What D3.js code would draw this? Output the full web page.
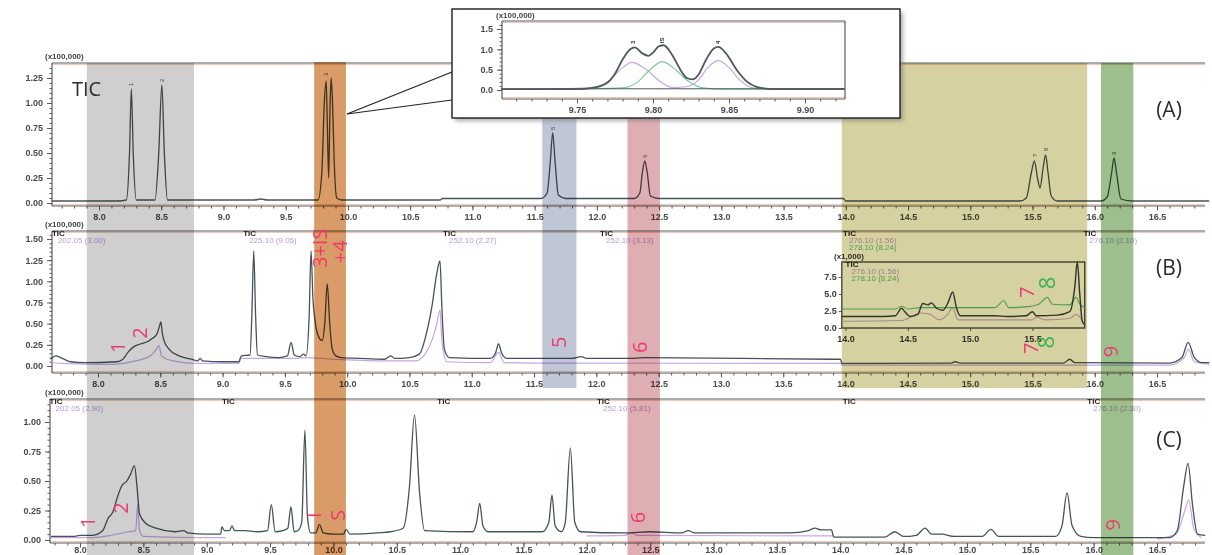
<!DOCTYPE html>
<html>
<head>
<meta charset="utf-8">
<script src="https://cdn.jsdelivr.net/npm/d3@7"></script>
<style>
body{margin:0;background:#fff;}
svg{display:block;filter:blur(0.3px);}
</style>
</head>
<body>
<script>
// retention time (min) vs intensity (x100,000)

// panel A : standard mix, TIC
var ticA = [[7.62,0.02],[8.15,0.02],[8.22,0.03],[8.245,0.5],[8.26,1.14],[8.275,0.5],[8.30,0.03],[8.45,0.03],[8.48,0.5],[8.505,1.18],[8.525,0.5],[8.55,0.03],
  [9.25,0.03],[9.30,0.04],[9.35,0.03],[9.76,0.03],[9.79,0.3],[9.81,1.0],[9.825,1.22],[9.835,0.75],[9.845,0.25],[9.855,0.9],[9.865,1.25],[9.875,1.05],[9.89,0.4],[9.91,0.05],[9.95,0.03],
  [10.74,0.03],[10.76,0.045],[11.55,0.045],[11.60,0.1],[11.625,0.4],[11.645,0.70],[11.665,0.4],[11.69,0.08],[11.75,0.045],
  [12.30,0.045],[12.345,0.1],[12.365,0.3],[12.385,0.42],[12.405,0.3],[12.43,0.07],[12.5,0.045],[13.98,0.045],[14.0,0.02],
  [15.40,0.02],[15.45,0.05],[15.49,0.3],[15.515,0.42],[15.54,0.25],[15.56,0.15],[15.585,0.35],[15.605,0.48],[15.625,0.3],[15.65,0.07],[15.7,0.02],
  [16.05,0.02],[16.10,0.06],[16.135,0.3],[16.155,0.45],[16.175,0.3],[16.21,0.04],[16.3,0.02],[16.92,0.02]];

// inset of A : 9.70 - 9.93 min
var insetTic = [[9.70,0.02],[9.75,0.02],[9.76,0.05],[9.77,0.18],[9.775,0.4],[9.78,0.75],[9.785,1.0],[9.788,1.05],[9.793,0.9],[9.797,0.84],[9.80,0.92],[9.804,1.08],[9.807,1.1],[9.812,0.9],[9.818,0.5],[9.822,0.3],[9.826,0.26],[9.83,0.38],[9.835,0.75],[9.84,1.02],[9.843,1.06],[9.848,0.9],[9.855,0.5],[9.862,0.2],[9.87,0.06],[9.88,0.02],[9.926,0.02]];
var insetLav = [[9.72,0.02],[9.76,0.06],[9.77,0.2],[9.78,0.55],[9.786,0.68],[9.795,0.52],[9.805,0.2],[9.813,0.06],[9.822,0.08],[9.83,0.25],[9.836,0.55],[9.843,0.72],[9.85,0.55],[9.857,0.25],[9.865,0.06],[9.875,0.02],[9.926,0.02]];
var insetGreen = [[9.734,0.02],[9.78,0.05],[9.79,0.2],[9.798,0.5],[9.806,0.7],[9.815,0.5],[9.822,0.25],[9.832,0.06],[9.845,0.02],[9.926,0.02]];

// panel B : sample, TIC and ion trace
var ticB = [[7.62,0.08],[7.66,0.12],[7.70,0.10],[7.78,0.05],[7.9,0.04],[8.15,0.05],[8.20,0.08],[8.24,0.16],[8.28,0.22],[8.34,0.26],[8.40,0.29],[8.44,0.33],[8.47,0.37],[8.49,0.45],[8.505,0.52],[8.515,0.40],[8.53,0.30],[8.57,0.20],[8.65,0.12],[8.75,0.08],[8.80,0.06],[8.82,0.09],[8.84,0.06],[9.0,0.05],[9.13,0.05],[9.15,0.12],[9.22,0.13],[9.235,0.6],[9.25,1.36],[9.265,0.6],[9.28,0.13],[9.35,0.11],[9.45,0.10],[9.52,0.12],[9.55,0.28],[9.575,0.13],[9.62,0.11],[9.65,0.14],[9.67,0.12],[9.695,0.6],[9.71,1.36],[9.725,0.8],[9.745,0.5],[9.77,0.35],[9.80,0.3],[9.82,0.5],[9.84,0.97],[9.86,0.5],[9.88,0.2],[9.91,0.12],[9.95,0.10],[10.1,0.09],[10.3,0.08],[10.35,0.12],[10.38,0.09],[10.50,0.1],[10.58,0.14],[10.63,0.35],[10.68,0.7],[10.72,1.1],[10.745,1.24],[10.76,0.7],[10.78,0.2],[10.82,0.1],[11.15,0.09],[11.19,0.15],[11.215,0.26],[11.24,0.15],[11.28,0.09],[11.8,0.09],[11.88,0.11],[11.92,0.09],[12.3,0.09],[12.4,0.1],[13.9,0.08],[13.96,0.08],[13.97,0.03],[14.85,0.035],[14.88,0.05],[14.92,0.035],[15.75,0.035],[15.80,0.08],[15.84,0.04],[16.6,0.035],[16.7,0.1],[16.75,0.28],[16.80,0.1],[16.86,0.04],[16.92,0.04]];
var ionB = [[7.62,0.05],[7.7,0.03],[8.1,0.02],[8.3,0.06],[8.42,0.12],[8.47,0.2],[8.49,0.24],[8.51,0.12],[8.6,0.06],[8.8,0.03],[9.13,0.03],[9.15,0.09],[9.6,0.09],[9.65,0.1],[9.9,0.08],[10.3,0.06],[10.55,0.06],[10.65,0.2],[10.72,0.5],[10.745,0.66],[10.76,0.3],[10.8,0.05],[11.15,0.04],[11.215,0.16],[11.26,0.04],[11.5,0.035],[13.96,0.03],[13.97,0.01],[16.6,0.01],[16.72,0.1],[16.75,0.2],[16.8,0.05],[16.92,0.02]];

// inset of B : 14.0 - 15.9 min, x1,000
var insetBTic = [[13.97,1.7],[14.3,1.7],[14.4,1.8],[14.45,2.9],[14.48,2.3],[14.52,1.7],[14.58,2.0],[14.62,3.6],[14.66,3.4],[14.69,3.7],[14.73,2.9],[14.78,2.6],[14.82,3.6],[14.86,5.3],[14.89,3.0],[14.92,1.8],[15.2,1.8],[15.3,1.7],[15.45,1.8],[15.5,2.4],[15.53,1.8],[15.7,1.9],[15.8,2.4],[15.84,6],[15.86,9.7],[15.88,5],[15.9,1.0],[15.92,0.5]];
var insetB276 = [[13.97,1.0],[14.45,1.1],[14.6,2.2],[14.68,2.0],[14.75,1.2],[14.82,2.0],[14.86,3.0],[14.9,1.2],[15.5,1.2],[15.53,1.6],[15.6,1.2],[15.8,1.4],[15.85,2.0],[15.9,1.1]];
var insetB278 = [[13.97,2.8],[14.4,2.8],[14.45,3.2],[14.5,2.8],[14.6,3.0],[15.2,3.0],[15.27,4.0],[15.31,3.0],[15.45,3.1],[15.55,3.5],[15.62,4.5],[15.66,3.5],[15.8,3.4],[15.85,4.5],[15.88,3.5],[15.92,3.0]];

// panel C : second sample
var ticC = [[7.77,0.03],[7.95,0.03],[8.0,0.04],[8.1,0.04],[8.18,0.08],[8.22,0.18],[8.26,0.24],[8.30,0.38],[8.33,0.46],[8.37,0.50],[8.40,0.56],[8.43,0.63],[8.45,0.45],[8.47,0.22],[8.52,0.14],[8.6,0.10],[8.75,0.07],[8.82,0.08],[8.85,0.06],[9.0,0.05],[9.11,0.05],[9.12,0.11],[9.14,0.08],[9.18,0.08],[9.20,0.12],[9.22,0.08],[9.3,0.08],[9.40,0.07],[9.48,0.08],[9.51,0.3],[9.54,0.07],[9.60,0.08],[9.64,0.10],[9.665,0.28],[9.69,0.07],[9.72,0.08],[9.75,0.15],[9.775,0.93],[9.795,0.2],[9.82,0.06],[9.86,0.06],[9.89,0.13],[9.92,0.06],[10.0,0.05],[10.08,0.05],[10.1,0.09],[10.13,0.05],[10.35,0.06],[10.45,0.07],[10.55,0.1],[10.60,0.45],[10.64,1.06],[10.68,0.4],[10.72,0.08],[11.1,0.07],[11.13,0.15],[11.155,0.31],[11.18,0.12],[11.22,0.07],[11.65,0.07],[11.70,0.15],[11.725,0.38],[11.75,0.12],[11.80,0.07],[11.83,0.15],[11.87,0.78],[11.905,0.15],[11.95,0.07],[12.3,0.06],[12.5,0.07],[12.75,0.06],[12.8,0.08],[12.85,0.06],[13.6,0.06],[13.75,0.08],[13.8,0.1],[13.85,0.085],[13.93,0.085],[13.95,0.025],[14.35,0.025],[14.43,0.07],[14.5,0.03],[14.6,0.04],[14.67,0.1],[14.72,0.05],[14.8,0.05],[14.9,0.03],[15.12,0.03],[15.19,0.09],[15.25,0.03],[15.7,0.03],[15.75,0.12],[15.79,0.4],[15.83,0.12],[15.9,0.03],[16.0,0.02],[16.6,0.02],[16.66,0.08],[16.71,0.45],[16.745,0.65],[16.78,0.3],[16.82,0.05],[16.88,0.04]];
var ionC = [[7.77,0.02],[8.1,0.02],[8.25,0.04],[8.38,0.07],[8.44,0.08],[8.455,0.3],[8.47,0.08],[8.5,0.03],[9.0,0.02],[9.15,0.02],null,
  [12.0,0.035],[12.3,0.04],[12.35,0.06],[12.4,0.04],[13.95,0.035],null,
  [16.5,0.01],[16.65,0.05],[16.72,0.25],[16.75,0.34],[16.79,0.1],[16.85,0.02]];

// highlighted retention windows (min)
var bandNames = ["g","o","b","p","y","gr"];
var bandFrom = [7.91, 9.735, 11.566, 12.25, 13.97, 16.05];
var bandTo   = [8.77, 9.99, 11.84, 12.51, 15.94, 16.31];

// peak labels
var labelsB = [["1",8.16,0.22],["2",8.34,0.39],["3+IS",9.78,1.39],["+4",9.94,1.35],["5",11.70,0.28],["6",12.35,0.22],["7",15.46,0.87],["8",15.62,0.98],["7",15.49,0.21],["8",15.61,0.28],["9",16.13,0.17]];
var labelsC = [["1",8.06,0.15],["2",8.32,0.27],["I",9.85,0.21],["S",10.04,0.21],["6",12.40,0.19],["9",16.15,0.13]];
var labelsA = [["1",8.26,1.17],["2",8.505,1.21],["3",9.825,1.27],["5",11.645,0.73],["6",12.385,0.45],["7",15.515,0.46],["8",15.605,0.52],["9",16.155,0.48]];

// segment captions
var capB = [[7.63,"TIC","202.05 (3.00)"],[9.165,"TIC","225.10 (9.05)"],[10.77,"TIC","252.10 (2.27)"],[12.03,"TIC","252.10 (3.13)"],[13.98,"TIC","276.10 (1.56)","278.10 (8.24)"],[15.91,"TIC","276.10 (2.10)"]];
var capC = [[7.76,"TIC","202.05 (2.90)"],[9.12,"TIC"],[10.82,"TIC"],[12.08,"TIC","252.10 (5.81)"],[14.02,"TIC"],[15.95,"TIC","276.10 (2.30)"]];

var yTicksA = [0,0.25,0.5,0.75,1.0,1.25];
var yTicksB = [0,0.25,0.5,0.75,1.0,1.25,1.5];
var yTicksC = [0,0.25,0.5,0.75,1.0];
var xTicks = [8,8.5,9,9.5,10,10.5,11,11.5,12,12.5,13,13.5,14,14.5,15,15.5,16,16.5];
var insetXTicks = [9.75,9.80,9.85,9.90];
var insetYTicks = [0,0.5,1.0,1.5];
var insetBXTicks = [14.0,14.5,15.0,15.5];
var insetBYTicks = [0,2.5,5.0,7.5];

var bandColor = {g:"#cdcdcd",o:"#d7965f",b:"#bcc3d4",p:"#deaaaf",y:"#d4cf9b",gr:"#98bc87"};
var bandY = {g:[63,555],o:[62,555],b:[118,388],p:[118,555],y:[63,388],gr:[63,555]};

function init(){
  var w = 1212, h = 555;
  var svg = d3.select("body").append("svg").attr("width",w).attr("height",h);
  var font = "'Liberation Sans', Arial, sans-serif";
  var axisCol = "#5a5a5a";
  var ticCol = "#46535a", lavCol = "#c7a6e3", grnCol = "#5cbf7c", pink = "#ec3a72";

  var defs = svg.append("defs");
  defs.append("filter").attr("id","sh").append("feGaussianBlur").attr("stdDeviation",2);

  function axes(g, x, y, o){
    g.append("line").attr("x1",o.left).attr("x2",o.right).attr("y1",o.top).attr("y2",o.top)
      .attr("stroke",axisCol).attr("stroke-width",1.2);
    g.append("line").attr("x1",o.left).attr("x2",o.right).attr("y1",o.top+1.5).attr("y2",o.top+1.5)
      .attr("stroke","#f3c9b5").attr("stroke-width",1);
    g.append("line").attr("x1",o.left).attr("x2",o.right).attr("y1",o.bottom).attr("y2",o.bottom)
      .attr("stroke",axisCol).attr("stroke-width",1.2);
    g.append("line").attr("x1",o.left).attr("x2",o.right).attr("y1",o.bottom-1.5).attr("y2",o.bottom-1.5)
      .attr("stroke","#f3c9b5").attr("stroke-width",1);
    g.append("line").attr("x1",o.left).attr("x2",o.left).attr("y1",o.top).attr("y2",o.bottom)
      .attr("stroke",axisCol).attr("stroke-width",1.2);

    var minor = d3.range(Math.ceil(x.invert(o.left)/o.xMinor)*o.xMinor, x.invert(o.right), o.xMinor);
    var gm = g.append("g").attr("transform","translate(0,"+o.bottom+")")
      .call(d3.axisBottom(x).tickValues(minor).tickSize(2.5).tickFormat(""));
    var gx = g.append("g").attr("transform","translate(0,"+o.bottom+")")
      .call(d3.axisBottom(x).tickValues(o.xTicks).tickSize(4.5).tickPadding(o.pad == null ? 3 : o.pad).tickFormat(d3.format(o.xFmt)));
    var ymin = d3.range(0, y.invert(o.top), o.yMinor);
    var gym = g.append("g").attr("transform","translate("+o.left+",0)")
      .call(d3.axisLeft(y).tickValues(ymin).tickSize(2.5).tickFormat(""));
    var gy = g.append("g").attr("transform","translate("+o.left+",0)")
      .call(d3.axisLeft(y).tickValues(o.yTicks).tickSize(5).tickPadding(4).tickFormat(d3.format(o.yFmt)));
    [gm,gx,gym,gy].forEach(function(s){
      s.select(".domain").remove();
      s.selectAll("line").attr("stroke",axisCol);
      s.selectAll("text").attr("fill","#4a4a4a").style("font-family",font)
        .style("font-size",o.fs+"px").style("font-weight","bold");
    });
  }

  function trace(g, x, y, data, col, wd){
    var line = d3.line().defined(function(d){return d !== null;})
      .x(function(d){return x(d[0]);}).y(function(d){return y(d[1]);})
      .curve(d3.curveMonotoneX);
    g.append("path").datum(data).attr("d",line).attr("fill","none")
      .attr("stroke",col).attr("stroke-width",wd).attr("stroke-linejoin","round");
  }

  function captions(g, x, top, caps){
    caps.forEach(function(c){
      var t = g.append("text").attr("x",x(c[0])).attr("y",top+5)
        .style("font-family",font).style("font-size","8px");
      c.slice(1).forEach(function(s,i){
        t.append("tspan").attr("x",x(c[0])+(i ? 6 : 0)).attr("dy",i ? 7 : 0)
          .attr("fill",i==0 ? "#222" : (i==2 ? grnCol : "#b898dc"))
          .style("font-weight",i==0 ? "bold" : "normal").text(s);
      });
    });
  }

  // ---- panel A
  var xA = d3.scaleLinear().domain([8,16.5]).range([99,1157]);
  var yA = d3.scaleLinear().domain([0,1.25]).range([203,78]);
  var gA = svg.append("g");
  axes(gA, xA, yA, {left:52,right:1205,top:63,bottom:206,xTicks:xTicks,xMinor:0.1,xFmt:".1f",yTicks:yTicksA,yMinor:0.05,yFmt:".2f",fs:9});
  trace(gA, xA, yA, ticA, ticCol, 1.3);
  gA.append("text").attr("x",45).attr("y",59).text("(x100,000)")
    .attr("fill","#444").style("font-family",font).style("font-size","8px").style("font-weight","bold");
  labelsA.forEach(function(l){
    gA.append("text").attr("transform","translate("+xA(l[1])+","+yA(l[2])+") rotate(-90)")
      .attr("text-anchor","start").attr("dy","0.35em").attr("fill","#555")
      .style("font-family",font).style("font-size","6px").text(l[0]);
  });

  // ---- panel B
  var xB = d3.scaleLinear().domain([8,16.5]).range([98,1157]);
  var yB = d3.scaleLinear().domain([0,1.5]).range([366,239]);
  var gB = svg.append("g");
  axes(gB, xB, yB, {left:52,right:1205,top:231,bottom:373,xTicks:xTicks,xMinor:0.1,xFmt:".1f",yTicks:yTicksB,yMinor:0.05,yFmt:".2f",fs:9});
  trace(gB, xB, yB, ionB, lavCol, 1.2);
  trace(gB, xB, yB, ticB, ticCol, 1.3);
  gB.append("text").attr("x",45).attr("y",227).text("(x100,000)")
    .attr("fill","#444").style("font-family",font).style("font-size","8px").style("font-weight","bold");
  captions(gB, xB, 231, capB);

  // inset of B
  var yBi = d3.scaleLinear().domain([0,7.5]).range([328,277]);
  var gBi = svg.append("g");
  gBi.append("rect").attr("x",xB(13.97)).attr("y",262).attr("width",xB(15.92)-xB(13.97)).attr("height",66)
    .attr("fill","none").attr("stroke","#3e3e3e").attr("stroke-width",1.3);
  var bix = gBi.append("g").attr("transform","translate(0,328)")
    .call(d3.axisBottom(xB).tickValues(insetBXTicks).tickSize(3).tickPadding(5).tickFormat(d3.format(".1f")));
  var biy = gBi.append("g").attr("transform","translate("+xB(13.97)+",0)")
    .call(d3.axisLeft(yBi).tickValues(insetBYTicks).tickSize(3).tickPadding(2).tickFormat(d3.format(".1f")));
  [bix,biy].forEach(function(s){
    s.select(".domain").remove();
    s.selectAll("line").attr("stroke",axisCol);
    s.selectAll("text").attr("fill","#3a3a3a").style("font-family",font).style("font-size","9px").style("font-weight","bold");
  });
  trace(gBi, xB, yBi, insetB276, lavCol, 1.1);
  trace(gBi, xB, yBi, insetB278, grnCol, 1.1);
  trace(gBi, xB, yBi, insetBTic, "#38403f", 1.4);
  gBi.append("text").attr("x",834).attr("y",259).text("(x1,000)")
    .attr("fill","#333").style("font-family",font).style("font-size","8px").style("font-weight","bold");
  captions(gBi, xB, 262, [[14.0,"TIC","276.10 (1.56)","278.10 (8.24)"]]);

  // ---- panel C
  var xC = d3.scaleLinear().domain([8,16.5]).range([80,1157]);
  var yC = d3.scaleLinear().domain([0,1.0]).range([540,422]);
  var gC = svg.append("g");
  axes(gC, xC, yC, {left:50,right:1205,top:399,bottom:543,xTicks:xTicks,xMinor:0.1,xFmt:".1f",yTicks:yTicksC,yMinor:0.05,yFmt:".2f",fs:9,pad:-1});
  trace(gC, xC, yC, ionC, lavCol, 1.2);
  trace(gC, xC, yC, ticC, ticCol, 1.3);
  gC.append("text").attr("x",45).attr("y",395).text("(x100,000)")
    .attr("fill","#444").style("font-family",font).style("font-size","8px").style("font-weight","bold");
  captions(gC, xC, 399, capC);

  // ---- highlighted windows (share the A/B time axis)
  var gBand = svg.append("g");
  bandNames.forEach(function(n,i){
    gBand.append("rect").attr("x",xB(bandFrom[i])).attr("width",xB(bandTo[i])-xB(bandFrom[i]))
      .attr("y",bandY[n][0]).attr("height",bandY[n][1]-bandY[n][0])
      .attr("fill",bandColor[n]).style("mix-blend-mode","multiply").attr("opacity",0.95);
  });

  // ---- peak numbers
  function peakLabels(x, y, list){
    list.forEach(function(l){
      var col = (l[0]=="8") ? "#3cb44f" : pink;
      svg.append("text").attr("transform","translate("+x(l[1])+","+y(l[2])+") rotate(-90)")
        .attr("text-anchor","middle").attr("dy","0.35em").attr("fill",col)
        .style("font-family","'Open Sans', sans-serif").style("font-size",(l[0]=="8" ? 22 : 20)+"px").text(l[0]);
    });
  }
  peakLabels(xB, yB, labelsB);
  peakLabels(xC, yC, labelsC);

  var bigFont = "'Open Sans', sans-serif";
  svg.append("text").attr("x",72).attr("y",96).text("TIC").attr("fill","#2c2c2c").style("font-family",bigFont).style("font-size","20px");
  [["(A)",110],["(B)",268],["(C)",440]].forEach(function(p){
    svg.append("text").attr("x",1169).attr("y",p[1]).attr("text-anchor","middle").attr("dy","0.35em")
      .attr("fill","#2c2c2c").style("font-family",bigFont).style("font-size","21px").text(p[0]);
  });

  // ---- callout + inset of A
  var gI = svg.append("g");
  gI.append("line").attr("x1",347).attr("y1",114).attr("x2",452).attr("y2",72).attr("stroke","#222").attr("stroke-width",1.2);
  gI.append("line").attr("x1",347).attr("y1",114).attr("x2",452).attr("y2",100).attr("stroke","#222").attr("stroke-width",1.2);
  gI.append("rect").attr("x",455).attr("y",12).attr("width",448).attr("height",109).attr("fill","#777").attr("opacity",0.6).attr("filter","url(#sh)");
  gI.append("rect").attr("x",452).attr("y",9).attr("width",448).attr("height",109).attr("fill","#fff").attr("stroke","#1e1e1e").attr("stroke-width",1.4);
  var xI = d3.scaleLinear().domain([9.75,9.90]).range([577,805]);
  var yI = d3.scaleLinear().domain([0,1.5]).range([90,29]);
  axes(gI, xI, yI, {left:502,right:845,top:21,bottom:99,xTicks:insetXTicks,xMinor:0.01,xFmt:".2f",yTicks:insetYTicks,yMinor:0.1,yFmt:".1f",fs:9});
  gI.append("line").attr("x1",845).attr("x2",845).attr("y1",21).attr("y2",99).attr("stroke",axisCol).attr("stroke-width",1.2);
  trace(gI, xI, yI, insetLav, lavCol, 1.2);
  trace(gI, xI, yI, insetGreen, "#7cc8a4", 1.2);
  trace(gI, xI, yI, insetTic, "#4d5a5c", 1.8);
  gI.append("line").attr("x1",xI(9.70)).attr("x2",845).attr("y1",yI(0.03)).attr("y2",yI(0.03)).attr("stroke","#4d5a5c").attr("stroke-width",1);
  gI.append("text").attr("x",496).attr("y",18).text("(x100,000)")
    .attr("fill","#444").style("font-family",font).style("font-size","8px").style("font-weight","bold");
  [["3",9.787,1.17],["IS",9.806,1.22],["4",9.843,1.17]].forEach(function(l){
    gI.append("text").attr("transform","translate("+xI(l[1])+","+yI(l[2])+") rotate(-90)")
      .attr("text-anchor","middle").attr("dy","0.35em").attr("fill","#333")
      .style("font-family",font).style("font-size","6px").style("font-weight","bold").text(l[0]);
  });
}
window.onload = init;
</script>
</body>
</html>
